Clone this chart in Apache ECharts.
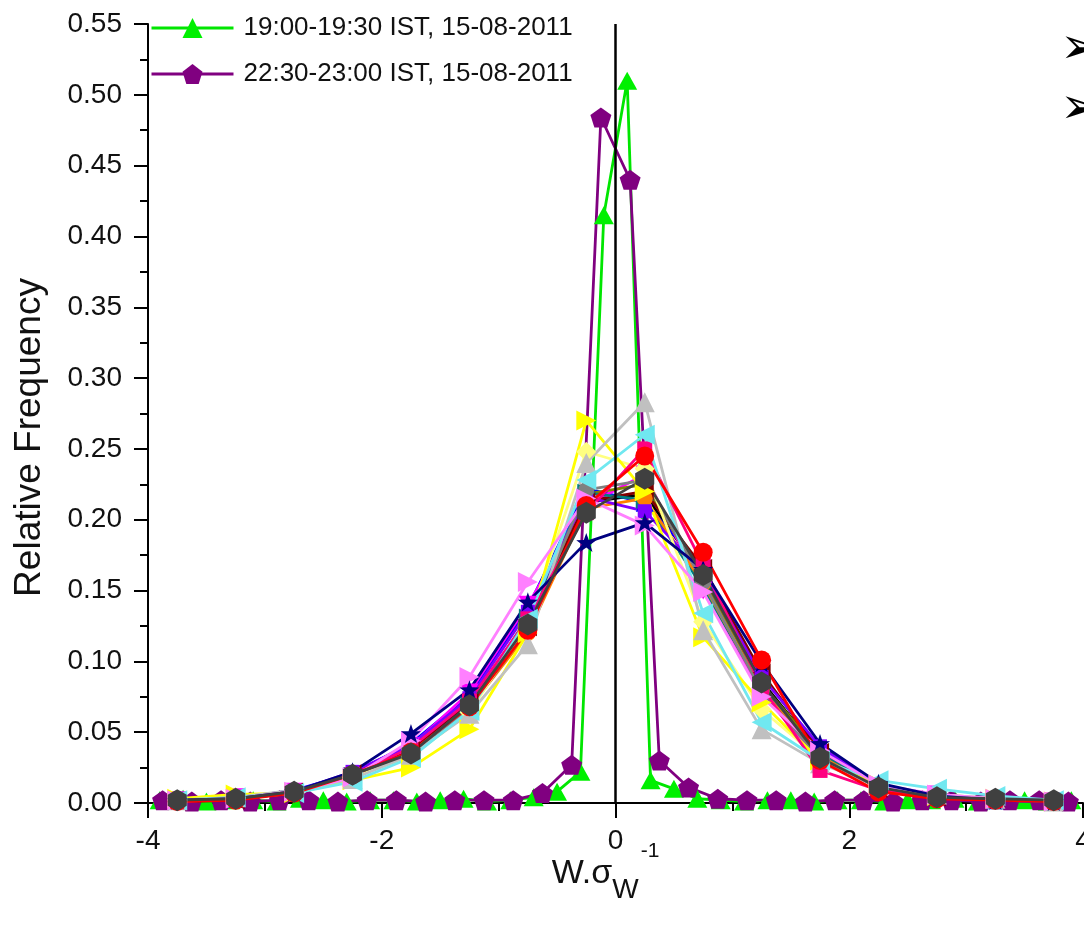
<!DOCTYPE html>
<html>
<head>
<meta charset="utf-8">
<title>Relative Frequency</title>
<script src="https://cdn.jsdelivr.net/npm/echarts@6/dist/echarts.min.js"></script>
<style>
  html, body { margin: 0; padding: 0; background: #fff; }
  #chart { width: 1084px; height: 934px; }
</style>
</head>
<body>
<div id="chart"></div>
<script>
// bin centres (0.5 wide bins) shared by the cluster of half-hour curves
const xBins = [-3.75, -3.25, -2.75, -2.25, -1.75, -1.25, -0.75, -0.25, 0.25, 0.75, 1.25, 1.75, 2.25, 2.75, 3.25, 3.75]

// narrow-bin curves shown in the legend
const xGreen = [-3.9, -3.7, -3.5, -3.3, -3.1, -2.9, -2.7, -2.5, -2.3, -2.1, -1.9, -1.7, -1.5, -1.3, -1.1, -0.9, -0.7, -0.5, -0.3, -0.1,
  0.1, 0.3, 0.5, 0.7, 0.9, 1.1, 1.3, 1.5, 1.7, 1.9, 2.1, 2.3, 2.5, 2.7, 2.9, 3.1, 3.3, 3.5, 3.7, 3.9]
const yGreen = [0.002, 0.003, 0.001, 0.002, 0.002, 0.001, 0.003, 0.002, 0.001, 0.002, 0.002, 0.001, 0.002, 0.003, 0.001, 0.002, 0.004, 0.008, 0.022, 0.415,
  0.51, 0.016, 0.010, 0.003, 0.002, 0.001, 0.002, 0.002, 0.001, 0.002, 0.002, 0.001, 0.002, 0.002, 0.003, 0.001, 0.002, 0.002, 0.001, 0.002]
const xPurple = [-3.875, -3.625, -3.375, -3.125, -2.875, -2.625, -2.375, -2.125, -1.875, -1.625, -1.375, -1.125, -0.875, -0.625, -0.375, -0.125,
  0.125, 0.375, 0.625, 0.875, 1.125, 1.375, 1.625, 1.875, 2.125, 2.375, 2.625, 2.875, 3.125, 3.375, 3.625, 3.875]
const yPurple = [0.002, 0.001, 0.002, 0.001, 0.002, 0.002, 0.001, 0.002, 0.002, 0.001, 0.002, 0.002, 0.002, 0.007, 0.027, 0.484,
  0.44, 0.030, 0.011, 0.003, 0.002, 0.002, 0.001, 0.002, 0.002, 0.001, 0.002, 0.002, 0.001, 0.002, 0.002, 0.001]

// cluster curves, one per colour
const yBlack = [0.002, 0.003, 0.008, 0.020, 0.037, 0.070, 0.128, 0.212, 0.218, 0.160, 0.086, 0.035, 0.011, 0.004, 0.002, 0.001]
const yRed = [0.001, 0.002, 0.007, 0.020, 0.036, 0.068, 0.122, 0.210, 0.245, 0.177, 0.101, 0.030, 0.008, 0.003, 0.002, 0.001]
const yBlue = [0.002, 0.003, 0.009, 0.021, 0.042, 0.076, 0.138, 0.222, 0.212, 0.166, 0.090, 0.039, 0.013, 0.005, 0.002, 0.001]
const yMagenta = [0.002, 0.004, 0.008, 0.019, 0.040, 0.078, 0.140, 0.210, 0.232, 0.150, 0.078, 0.030, 0.012, 0.006, 0.002, 0.001]
const yOlive = [0.001, 0.003, 0.007, 0.018, 0.034, 0.066, 0.125, 0.218, 0.225, 0.158, 0.084, 0.036, 0.012, 0.005, 0.002, 0.001]
const yWine = [0.001, 0.002, 0.008, 0.021, 0.038, 0.071, 0.124, 0.213, 0.220, 0.166, 0.092, 0.036, 0.010, 0.004, 0.002, 0.001]
const yDarkCyan = [0.002, 0.003, 0.007, 0.019, 0.035, 0.069, 0.131, 0.219, 0.214, 0.152, 0.081, 0.034, 0.013, 0.005, 0.002, 0.001]
const yOrange = [0.002, 0.003, 0.007, 0.019, 0.036, 0.067, 0.120, 0.208, 0.215, 0.155, 0.080, 0.033, 0.011, 0.004, 0.002, 0.001]
const yViolet = [0.001, 0.003, 0.008, 0.022, 0.041, 0.074, 0.135, 0.216, 0.206, 0.163, 0.089, 0.040, 0.012, 0.004, 0.002, 0.001]
const yGray = [0.002, 0.003, 0.008, 0.019, 0.035, 0.066, 0.123, 0.221, 0.228, 0.156, 0.079, 0.031, 0.011, 0.005, 0.002, 0.001]
const yNavy = [0.002, 0.003, 0.008, 0.022, 0.049, 0.080, 0.142, 0.184, 0.198, 0.165, 0.099, 0.042, 0.014, 0.005, 0.002, 0.001]
const yDeepPink = [0.001, 0.003, 0.008, 0.020, 0.039, 0.072, 0.130, 0.205, 0.250, 0.168, 0.082, 0.023, 0.009, 0.004, 0.002, 0.001]
const yPink = [0.002, 0.003, 0.008, 0.018, 0.044, 0.089, 0.156, 0.215, 0.196, 0.149, 0.075, 0.037, 0.013, 0.006, 0.003, 0.001]
const yLightGray = [0.002, 0.004, 0.009, 0.017, 0.034, 0.063, 0.112, 0.240, 0.283, 0.122, 0.052, 0.028, 0.012, 0.006, 0.003, 0.001]
const yYellow = [0.003, 0.006, 0.007, 0.016, 0.025, 0.052, 0.120, 0.270, 0.220, 0.117, 0.071, 0.030, 0.013, 0.005, 0.003, 0.001]
const yLightYellow = [0.002, 0.004, 0.008, 0.018, 0.033, 0.064, 0.127, 0.248, 0.236, 0.128, 0.066, 0.031, 0.012, 0.006, 0.003, 0.001]
const yCyan = [0.002, 0.004, 0.007, 0.015, 0.032, 0.065, 0.130, 0.228, 0.260, 0.134, 0.057, 0.030, 0.016, 0.010, 0.005, 0.002]
const yDarkGray = [0.002, 0.003, 0.008, 0.020, 0.035, 0.069, 0.126, 0.205, 0.229, 0.161, 0.085, 0.032, 0.011, 0.004, 0.003, 0.002]

const legendNames = ['19:00-19:30 IST, 15-08-2011', '22:30-23:00 IST, 15-08-2011']

const FONT = 'Liberation Sans, Arial, sans-serif'
const HEX = 'path://M0,-10 L8.66,-5 L8.66,5 L0,10 L-8.66,5 L-8.66,-5 Z'
const PENT = 'path://M0,-10 L9.51,-3.09 L5.88,8.09 L-5.88,8.09 L-9.51,-3.09 Z'
const STAR = 'path://M0,-10 L2.35,-3.24 L9.51,-3.09 L3.8,1.24 L5.88,8.09 L0,4 L-5.88,8.09 L-3.8,1.24 L-9.51,-3.09 L-2.35,-3.24 Z'

const pairs = (xs, ys) => xs.map((x, i) => [x, ys[i]])

// drawing order: first is bottom, dark gray hexagons end up on top
const cluster = [
  { y: yBlack, color: '#000000', symbol: 'rect', size: 14, rotate: 0 },
  { y: yBlue, color: '#0000FF', symbol: 'triangle', size: 18, rotate: 0 },
  { y: yMagenta, color: '#FF00FF', symbol: 'triangle', size: 18, rotate: 180 },
  { y: yOlive, color: '#808000', symbol: 'diamond', size: 18, rotate: 0 },
  { y: yWine, color: '#800000', symbol: 'triangle', size: 18, rotate: 90 },
  { y: yDarkCyan, color: '#008080', symbol: 'triangle', size: 18, rotate: -90 },
  { y: yOrange, color: '#FF8000', symbol: 'circle', size: 16, rotate: 0 },
  { y: yViolet, color: '#8000FF', symbol: 'rect', size: 14, rotate: 0 },
  { y: yGray, color: '#808080', symbol: 'circle', size: 16, rotate: 0 },
  { y: yLightYellow, color: '#FFFF80', symbol: 'diamond', size: 20, rotate: 0 },
  { y: yYellow, color: '#FFFF00', symbol: 'triangle', size: 20, rotate: -90 },
  { y: yLightGray, color: '#C0C0C0', symbol: 'triangle', size: 20, rotate: 0 },
  { y: yDeepPink, color: '#FF0080', symbol: 'rect', size: 15, rotate: 0 },
  { y: yCyan, color: '#70E8F0', symbol: 'triangle', size: 20, rotate: 90 },
  { y: yPink, color: '#FF80FF', symbol: 'triangle', size: 20, rotate: -90 },
  { y: yNavy, color: '#000080', symbol: STAR, size: 20, rotate: 0 },
  { y: yRed, color: '#FF0000', symbol: 'circle', size: 19, rotate: 0 },
  { y: yDarkGray, color: '#404040', symbol: HEX, size: 22, rotate: 0 }
]

const series = []

cluster.forEach((c, i) => {
  series.push({
    name: 'c' + i,
    type: 'line',
    data: pairs(xBins, c.y),
    symbol: c.symbol,
    symbolSize: c.size,
    symbolRotate: c.rotate,
    symbolKeepAspect: true,
    lineStyle: { color: c.color, width: 2.8 },
    itemStyle: { color: c.color, borderWidth: 0 },
    z: 2
  })
})

series.push({
  name: legendNames[0],
  type: 'line',
  data: pairs(xGreen, yGreen),
  symbol: 'triangle',
  symbolSize: [20, 18],
  lineStyle: { color: '#00E600', width: 2.8 },
  itemStyle: { color: '#00F000', borderWidth: 0 },
  z: 1
})

series.push({
  name: legendNames[1],
  type: 'line',
  data: pairs(xPurple, yPurple),
  symbol: PENT,
  symbolSize: 21,
  symbolKeepAspect: true,
  lineStyle: { color: '#800080', width: 2.8 },
  itemStyle: { color: '#800080', borderWidth: 0 },
  z: 1,
  markLine: {
    silent: true,
    symbol: 'none',
    label: { show: false },
    lineStyle: { color: '#000', width: 2.5, type: 'solid' },
    data: [{ xAxis: 0 }]
  }
})

const myChart = echarts.init(document.getElementById('chart'))

myChart.setOption({
  animation: false,
  backgroundColor: '#fff',
  textStyle: { fontFamily: FONT },
  grid: { left: 148, right: 1, top: 24, bottom: 131, outerBoundsMode: 'none' },
  legend: {
    data: legendNames,
    orient: 'vertical',
    left: 150,
    top: 15,
    padding: 0,
    itemWidth: 82,
    itemHeight: 25,
    itemGap: 20,
    lineStyle: { width: 3 },
    textStyle: { fontSize: 26, color: '#111', fontFamily: FONT, padding: [0, 0, 0, 5] }
  },
  xAxis: {
    type: 'value',
    min: -4,
    max: 4,
    interval: 2,
    name: '{a|W.σ}{sub|W}{sup|-1}',
    nameLocation: 'middle',
    nameGap: 38,
    nameMoveOverlap: false,
    nameTextStyle: {
      rich: {
        a: { fontSize: 34, color: '#111', fontFamily: FONT },
        sub: { fontSize: 28, color: '#111', fontFamily: FONT, padding: [34, 0, 0, 0] },
        sup: { fontSize: 21, color: '#111', fontFamily: FONT, padding: [0, 20, 44, 2] }
      }
    },
    axisLine: { onZero: false, lineStyle: { color: '#000', width: 2 } },
    axisTick: { length: 15, lineStyle: { color: '#000', width: 2 } },
    minorTick: { show: true, splitNumber: 2, length: 8, lineStyle: { color: '#000', width: 2 } },
    splitLine: { show: false },
    axisLabel: { fontSize: 28, color: '#111', margin: 24 }
  },
  yAxis: {
    type: 'value',
    min: 0,
    max: 0.55,
    interval: 0.05,
    name: 'Relative Frequency',
    nameLocation: 'middle',
    nameGap: 100,
    nameTextStyle: { fontSize: 37, color: '#111', fontFamily: FONT, padding: [0, 48, 0, 0] },
    axisLine: { onZero: false, lineStyle: { color: '#000', width: 2 } },
    axisTick: { length: 14, lineStyle: { color: '#000', width: 2 } },
    minorTick: { show: true, splitNumber: 2, length: 8, lineStyle: { color: '#000', width: 2 } },
    splitLine: { show: false },
    axisLabel: {
      fontSize: 28,
      color: '#111',
      margin: 26,
      formatter: v => v.toFixed(2)
    }
  },
  graphic: [
    { type: 'text', left: 1060, top: 25, style: { text: '➢', fontSize: 50, fill: '#000', fontFamily: 'DejaVu Sans' } },
    { type: 'text', left: 1060, top: 85, style: { text: '➢', fontSize: 50, fill: '#000', fontFamily: 'DejaVu Sans' } }
  ],
  series: series
})
</script>
</body>
</html>
